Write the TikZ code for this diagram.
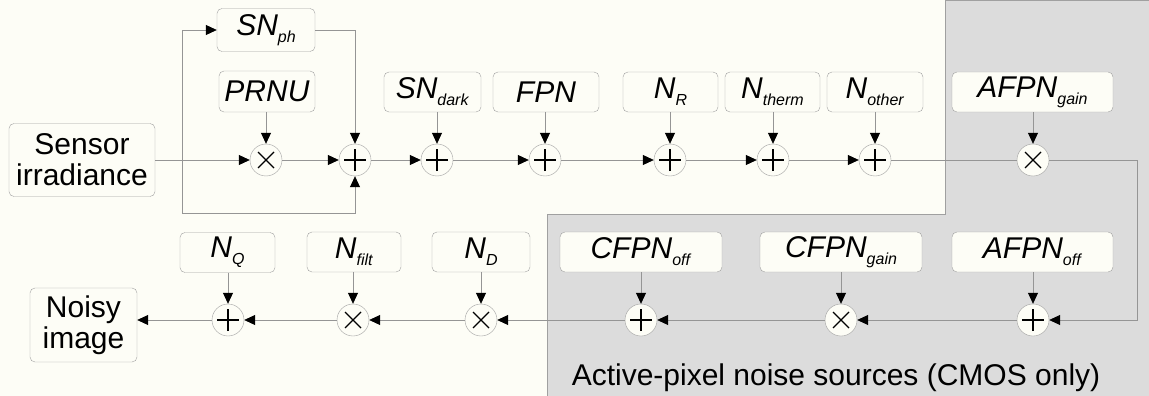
\documentclass[tikz,border=0pt]{standalone}
\usepackage{fontspec}
\setmainfont{Liberation Sans}
\usetikzlibrary{arrows.meta}
\definecolor{paper}{HTML}{FDFDF6}
\definecolor{shade}{HTML}{DCDCDC}
\definecolor{edge}{HTML}{A0A0A0}
\definecolor{wiregray}{HTML}{959595}
\newcommand{\nlbl}[2]{\textit{#1}\raisebox{-7pt}{\fontsize{16}{16}\selectfont\textit{#2}}}

\begin{document}
\begin{tikzpicture}[
    x = 1pt,
    y = -1pt,
    box/.style = {draw=edge, fill=paper, rounded corners=5pt, inner sep=0pt,
      minimum height=40pt, font=\fontsize{30}{31}\selectfont},
    opnode/.style = {circle, draw=edge, fill=paper, minimum size=32pt, inner sep=0pt},
    sumop/.style = {opnode, path picture={
        \draw[black, line width=1.3pt]
        ([xshift=-11pt]path picture bounding box.center) --
        ([xshift=11pt]path picture bounding box.center)
        ([yshift=-11pt]path picture bounding box.center) --
        ([yshift=11pt]path picture bounding box.center);}},
    prodop/.style = {opnode, path picture={
        \draw[black, line width=1.3pt]
        ([shift={(-8pt,-8pt)}]path picture bounding box.center) --
        ([shift={(8pt,8pt)}]path picture bounding box.center)
        ([shift={(-8pt,8pt)}]path picture bounding box.center) --
        ([shift={(8pt,-8pt)}]path picture bounding box.center);}},
    wire/.style = {draw=wiregray, line width=0.8pt},
    flow/.style = {wire, -{Triangle[length=11pt, width=10pt, color=black]}},
    ]
    % canvas
    \fill[paper] (0,0) rectangle (1149,396);
    \useasboundingbox (0,0) rectangle (1149,396);
    % CMOS area
    \filldraw[fill=shade, draw=edge, line width=0.8pt]
    (945,0) -- (1149,0) -- (1149,396) -- (547,396) -- (547,214) -- (945,214) -- cycle;
    \node[font=\fontsize{30}{31}\selectfont, anchor=base] (cmos) at (836,385)
    {Active-pixel noise sources (CMOS only)};
    % input and output
    \node[box, minimum width=146pt, minimum height=73pt, align=center] (irr) at (82,160)
    {Sensor\\irradiance};
    \node[box, minimum width=107pt, minimum height=74pt, align=center] (img) at (83.5,325)
    {Noisy\\image};
    % first row sources
    \node[box, minimum width=98pt, minimum height=43pt] (snph) at (266,30) {\nlbl{SN}{ph}};
    \node[box, minimum width=96pt, minimum height=41pt] (prnu) at (267,91.5) {\textit{PRNU}};
    \node[box, minimum width=97pt] (dark) at (432.5,92) {\nlbl{SN}{dark}};
    \node[box, minimum width=106pt] (fpn) at (546,92) {\textit{FPN}};
    \node[box, minimum width=95pt] (nr) at (670.5,92) {\nlbl{N}{R}};
    \node[box, minimum width=95pt] (therm) at (772.5,92) {\nlbl{N}{therm}};
    \node[box, minimum width=96pt] (other) at (875,92) {\nlbl{N}{other}};
    \node[box, minimum width=161pt] (again) at (1032.5,92) {\nlbl{AFPN}{gain}};
    % second row sources
    \node[box, minimum width=95pt] (nq) at (227.5,252.5) {\nlbl{N}{Q}};
    \node[box, minimum width=94pt] (nfilt) at (354,252) {\nlbl{N}{filt}};
    \node[box, minimum width=98pt] (nd) at (481,252) {\nlbl{N}{D}};
    \node[box, minimum width=162pt] (coff) at (641,252) {\nlbl{CFPN}{off}};
    \node[box, minimum width=162pt] (cgain) at (841,252) {\nlbl{CFPN}{gain}};
    \node[box, minimum width=161pt] (aoff) at (1032.5,252) {\nlbl{AFPN}{off}};
    % operators
    \foreach \nm/\x/\op in {m1/266/prodop, m2/355/sumop, m3/437/sumop, m4/545/sumop,
      m5/670/sumop, m6/773/sumop, m7/875/sumop, m8/1033/prodop}
    \node[\op] (\nm) at (\x,160) {};
    \foreach \nm/\x/\op in {b1/1033/sumop, b2/841/prodop, b3/641/sumop,
      b4/481/prodop, b5/353/prodop, b6/228/sumop}
    \node[\op] (\nm) at (\x,320) {};
    % source arrows
    \foreach \b/\c in {prnu/m1, dark/m3, fpn/m4, nr/m5, therm/m6, other/m7, again/m8,
      aoff/b1, cgain/b2, coff/b3, nd/b4, nfilt/b5, nq/b6}
    \draw[flow] (\b.south -| \c) -- (\c);
    % signal path
    \draw[flow] (irr) -- (m1);
    \foreach \a/\b in {m1/m2, m2/m3, m3/m4, m4/m5, m5/m6, m6/m7}
    \draw[flow] (\a) -- (\b);
    \draw[wire] (m7) -- (m8);
    \coordinate (turn) at (1137,160);
    \draw[flow] (m8) -- (turn) |- (b1);
    \foreach \a/\b in {b1/b2, b2/b3, b3/b4, b4/b5, b5/b6}
    \draw[flow] (\a) -- (\b);
    \draw[flow] (b6) -- (img.east |- b6);
    % shot noise loop
    \coordinate (split) at (182,160);
    \coordinate (low) at (182,213);
    \draw[flow] (split) |- (snph.west);
    \draw[flow] (snph.east) -| (m2.north);
    \draw[flow] (split) -- (low) -| (m2.south);
\end{tikzpicture}
\end{document}
